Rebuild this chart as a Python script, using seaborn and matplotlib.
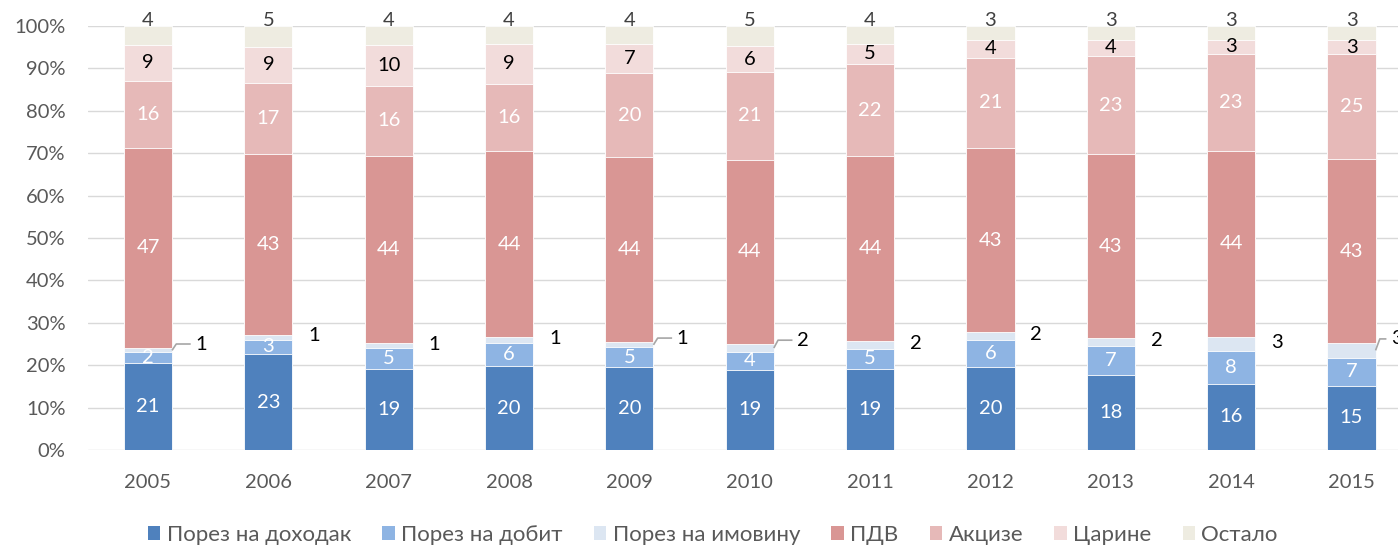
import pandas as pd
import matplotlib.pyplot as plt
import seaborn as sns
from matplotlib.patches import Patch

# Data: share of each tax in total revenue, %
years = ['2005', '2006', '2007', '2008', '2009', '2010', '2011', '2012', '2013', '2014', '2015']
income_tax = [20.6, 22.6, 19.2, 19.7, 19.6, 18.9, 19.1, 19.6, 17.6, 15.6, 15.2]
profit_tax = [2.4, 3.4, 4.9, 5.6, 4.6, 4.3, 4.8, 6.4, 6.9, 7.8, 6.6]
property_tax = [1.0, 1.2, 1.1, 1.3, 1.2, 1.7, 1.7, 1.8, 1.9, 3.2, 3.4]
vat = [47.3, 42.7, 44.2, 43.8, 43.6, 43.6, 43.7, 43.4, 43.3, 44.0, 43.4]
excise = [15.7, 16.6, 16.4, 16.0, 19.8, 20.7, 21.7, 21.3, 23.3, 22.9, 24.7]
customs = [8.6, 8.6, 9.8, 9.4, 7.0, 6.0, 4.8, 4.2, 3.8, 3.3, 3.4]
other = [4.4, 4.9, 4.4, 4.2, 4.2, 4.8, 4.2, 3.3, 3.2, 3.2, 3.3]

categories = ['Порез на доходак', 'Порез на добит', 'Порез на имовину', 'ПДВ', 'Акцизе', 'Царине', 'Остало']
series = [income_tax, profit_tax, property_tax, vat, excise, customs, other]
colors = ['#4F81BD', '#8EB4E3', '#DCE6F2', '#D99694', '#E6B9B8', '#F2DCDB', '#EEECE1']
label_colors = ['white', 'white', 'black', 'white', 'white', 'black', '#404040']
# years where the property tax label has a leader line
leader = [True, False, False, False, True, True, False, False, False, False, True]

# long table with cumulative tops
rows = []
for cat, vals in zip(categories, series):
    for y, v in zip(years, vals):
        rows.append({'year': y, 'category': cat, 'value': v})
df = pd.DataFrame(rows)
df['top'] = df.groupby('year')['value'].cumsum()

sns.set_style('white')
plt.rcParams['font.family'] = ['Lato', 'DejaVu Sans']
fs = 14.5

fig = plt.figure(figsize=(13.98, 5.47), dpi=100)
ax = fig.add_axes([0.0628, 0.1773, 0.947, 0.7752])

# stacked bars: draw cumulative totals from the top layer down
for cat, col in reversed(list(zip(categories, colors))):
    sub = df[df['category'] == cat]
    sns.barplot(data=sub, x='year', y='top', order=years, color=col, saturation=1,
                width=0.4, edgecolor='white', linewidth=0.6, errorbar=None, ax=ax)

# labels
last = len(years) - 1
for k, (cat, tc) in enumerate(zip(categories, label_colors)):
    sub = df[df['category'] == cat].reset_index(drop=True)
    for i, r in sub.iterrows():
        txt = f"{r['value']:.0f}"
        mid = r['top'] - r['value'] / 2
        if cat == 'Порез на имовину':
            if leader[i]:
                ly = r['top'] + 1.0
                lx = min(i + 0.44, last + 0.375)
                ax.plot([i + 0.2, i + 0.235, lx - 0.085], [mid, ly, ly], color='#A6A6A6', lw=1.2,
                        clip_on=False, solid_capstyle='butt')
            else:
                ly = mid + 0.3
                lx = i + 0.38
            ax.text(lx, ly, txt, ha='center', va='center', color=tc, fontsize=fs, clip_on=False)
        elif cat == 'Остало':
            ax.text(i, 101.2, txt, ha='center', va='center', color=tc, fontsize=fs, clip_on=False)
        else:
            ax.text(i, mid, txt, ha='center', va='center', color=tc, fontsize=fs)

ax.set_ylim(0, 100)
ax.set_xlim(-0.5, 10.5)
ax.set_yticks(range(0, 101, 10))
ax.set_yticklabels([f'{t}%' for t in range(0, 101, 10)])
ax.set_xlabel('')
ax.set_ylabel('')
ax.yaxis.grid(True, color='#D9D9D9', linewidth=1.0)
ax.set_axisbelow(True)
sns.despine(ax=ax, left=True, bottom=True)
ax.tick_params(axis='y', length=0, pad=16, labelcolor='#595959', labelsize=fs)
ax.tick_params(axis='x', length=0, pad=17, labelcolor='#595959', labelsize=fs)

handles = [Patch(facecolor=c, edgecolor='none', label=n) for n, c in zip(categories, colors)]
fig.legend(handles=handles, loc='center', bbox_to_anchor=(0.51, 0.022), ncol=7, frameon=False,
           handlelength=0.55, handleheight=0.55, handletextpad=0.3, columnspacing=1.4,
           fontsize=16, labelcolor='#595959')

fig.savefig('out.png', dpi=100)
